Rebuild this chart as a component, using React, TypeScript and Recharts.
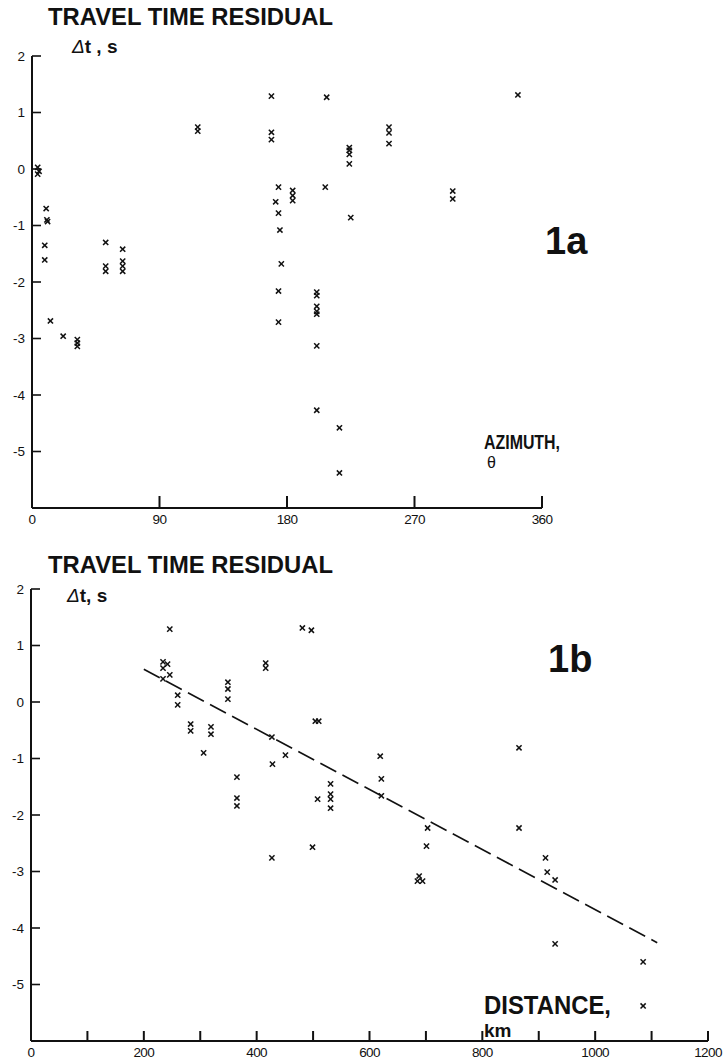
import { ReferenceLine, Scatter, ScatterChart, XAxis, YAxis } from 'recharts';

// panel 1a: azimuth (deg) vs travel time residual (s)
const azimuth = [4, 5, 4, 10, 10.5, 11, 9, 9, 13, 22, 32, 32, 32, 52, 52, 52, 64, 64, 64, 64, 117, 117,
  169, 169, 169, 174, 172, 174, 175, 176, 174, 174, 184, 184, 184, 201, 201, 201, 201, 201, 201, 201,
  217, 217, 208, 207, 224, 224, 224, 224, 225, 252, 252, 252, 297, 297, 343];
const residualA = [0.03, -0.04, -0.09, -0.7, -0.9, -0.93, -1.35, -1.61, -2.69, -2.96, -3.02, -3.08, -3.14,
  -1.3, -1.72, -1.81, -1.42, -1.63, -1.72, -1.81, 0.74, 0.67,
  1.29, 0.65, 0.52, -0.32, -0.58, -0.78, -1.08, -1.68, -2.16, -2.71, -0.38, -0.47, -0.56,
  -2.18, -2.24, -2.43, -2.52, -2.57, -3.13, -4.27, -4.58, -5.38, 1.27, -0.32,
  0.38, 0.33, 0.26, 0.09, -0.86, 0.74, 0.64, 0.45, -0.39, -0.53, 1.31];

// panel 1b: distance (km) vs travel time residual (s)
const distance = [246, 234, 242, 234, 246, 234, 260, 260, 283, 283, 319, 319, 306, 349, 349, 349,
  365, 365, 365, 416, 416, 427, 428, 451, 481, 497, 504, 510, 508, 531, 531, 531, 531, 427, 499,
  619, 621, 621, 865, 703, 865, 701, 688, 685, 694, 912, 915, 929, 929, 1085, 1085];
const residualB = [1.29, 0.71, 0.67, 0.6, 0.48, 0.41, 0.12, -0.05, -0.39, -0.51, -0.44, -0.57, -0.9, 0.35, 0.23, 0.05,
  -1.33, -1.7, -1.84, 0.69, 0.6, -0.62, -1.1, -0.94, 1.31, 1.27, -0.34, -0.34, -1.72, -1.45, -1.63, -1.72, -1.88, -2.76, -2.57,
  -0.96, -1.36, -1.66, -0.81, -2.23, -2.23, -2.55, -3.08, -3.17, -3.17, -2.76, -3.01, -3.15, -4.28, -4.6, -5.38];

// dashed fit line ends
const fitDistance = [200, 1110];
const fitResidual = [0.58, -4.26];

const azTicks = [0, 90, 180, 270, 360];
const kmTicks = [0, 100, 200, 300, 400, 500, 600, 700, 800, 900, 1000, 1100, 1200];
const dtTicks = [-5, -4, -3, -2, -1, 0, 1, 2];

const dataA = azimuth.map((az, i) => ({ az, dt: residualA[i] }));
const dataB = distance.map((km, i) => ({ km, dt: residualB[i] }));

const ink = '#111';
const font = "'Liberation Sans', Arial, Helvetica, sans-serif";

const Cross = (props: any) => {
  const { cx, cy } = props;
  const r = 2.6;
  return (
    <g stroke={ink} strokeWidth={1.5}>
      <line x1={cx - r} y1={cy - r} x2={cx + r} y2={cy + r} />
      <line x1={cx - r} y1={cy + r} x2={cx + r} y2={cy - r} />
    </g>
  );
};

const makeXTick = (len: number, skip?: (v: number) => boolean) => (props: any) => {
  const { x, y, payload } = props;
  return (
    <g>
      <line x1={x} y1={y} x2={x} y2={y - len} stroke={ink} strokeWidth={2} />
      {!(skip && skip(payload.value)) && (
        <text x={x} y={y + 16} textAnchor="middle" fontSize={13.5} fontFamily={font} fill={ink} letterSpacing={-0.6}>
          {payload.value}
        </text>
      )}
    </g>
  );
};

const YTick = (props: any) => {
  const { x, y, payload } = props;
  return (
    <g>
      <line x1={x} y1={y} x2={x + 9} y2={y} stroke={ink} strokeWidth={1.6} />
      <text x={x - 7} y={y} dy="0.36em" textAnchor="end" fontSize={13.5} fontFamily={font} fill={ink}>
        {payload.value}
      </text>
    </g>
  );
};

const axisLine = { stroke: ink, strokeWidth: 2 };

export default function App() {
  return (
    <div style={{ position: 'absolute', left: 0, top: 0, width: 724, height: 1063, background: '#fff' }}>
      <div style={{ position: 'absolute', left: 0, top: 0 }}>
        <ScatterChart width={724} height={540} margin={{ top: 56, right: 182, bottom: 0, left: 0 }}>
          <XAxis type="number" dataKey="az" domain={[0, 360]} ticks={azTicks} height={32}
            tickSize={0} tickMargin={0} tickLine={false} axisLine={axisLine} tick={makeXTick(12)} interval={0} />
          <YAxis type="number" dataKey="dt" domain={[-6, 2]} ticks={dtTicks} width={32}
            tickSize={0} tickMargin={0} tickLine={false} axisLine={axisLine} tick={YTick} interval={0} />
          <Scatter data={dataA} shape={Cross} isAnimationActive={false} />
        </ScatterChart>
      </div>
      <div style={{ position: 'absolute', left: 0, top: 540 }}>
        <ScatterChart width={724} height={523} margin={{ top: 49, right: 16, bottom: 0, left: 0 }}>
          <XAxis type="number" dataKey="km" domain={[0, 1200]} ticks={kmTicks} height={22}
            tickSize={0} tickMargin={0} tickLine={false} axisLine={axisLine}
            tick={makeXTick(10, (v) => v % 200 !== 0)} interval={0} />
          <YAxis type="number" dataKey="dt" domain={[-6, 2]} ticks={dtTicks} width={31}
            tickSize={0} tickMargin={0} tickLine={false} axisLine={axisLine} tick={YTick} interval={0} />
          <ReferenceLine
            segment={[{ x: fitDistance[0], y: fitResidual[0] }, { x: fitDistance[1], y: fitResidual[1] }]}
            stroke={ink} strokeWidth={1.6} strokeDasharray="18 7" />
          <Scatter data={dataB} shape={Cross} isAnimationActive={false} />
        </ScatterChart>
      </div>
      <svg width={724} height={1063} style={{ position: 'absolute', left: 0, top: 0, pointerEvents: 'none' }}
        fontFamily={font} fill={ink}>
        <text x={48} y={25} fontSize={24} fontWeight="bold" textLength={285} lengthAdjust="spacingAndGlyphs">TRAVEL TIME RESIDUAL</text>
        <text x={72} y={53} fontSize={19} fontWeight="bold">
          <tspan fontStyle="italic" fontWeight="normal">Δ</tspan>t , s
        </text>
        <text x={545} y={254} fontSize={38} fontWeight="bold">1a</text>
        <text x={484} y={449} fontSize={20} fontWeight="bold" textLength={76} lengthAdjust="spacingAndGlyphs">AZIMUTH,</text>
        <text x={487} y={468} fontSize={16}>θ</text>

        <text x={48} y={573} fontSize={24} fontWeight="bold" textLength={285} lengthAdjust="spacingAndGlyphs">TRAVEL TIME RESIDUAL</text>
        <text x={67} y={602} fontSize={19} fontWeight="bold">
          <tspan fontStyle="italic" fontWeight="normal">Δ</tspan>t, s
        </text>
        <text x={548} y={672} fontSize={38} fontWeight="bold">1b</text>
        <text x={484} y={1014} fontSize={25} fontWeight="bold" textLength={127} lengthAdjust="spacingAndGlyphs">DISTANCE,</text>
        <text x={484} y={1037} fontSize={19} fontWeight="bold">km</text>
      </svg>
    </div>
  );
}
